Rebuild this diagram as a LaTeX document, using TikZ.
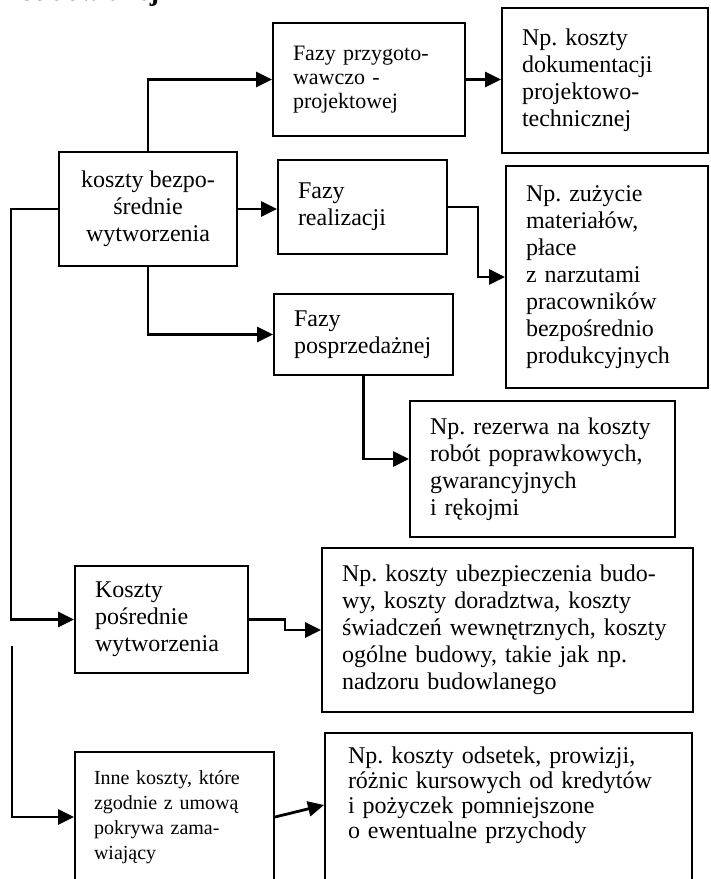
\documentclass[tikz,border=0pt]{standalone}
\usepackage{fontspec}
\setmainfont{Liberation Serif}
\usetikzlibrary{arrows.meta, positioning}
\frenchspacing

\begin{document}
\begin{tikzpicture}[
    x=0.5pt, y=-0.5pt,
    every node/.style={font=\fontsize{12}{13.5}\selectfont},
    box/.style={rectangle, draw, line width=1pt, align=left, inner xsep=10pt},
    small/.style={font=\fontsize{11}{12}\selectfont},
    arrow/.style={-{Triangle[length=8pt, width=7.5pt]}, line width=1.4pt}
]
\useasboundingbox (0,0) rectangle (711,879);

% Heading (cut off at the top)
\node[font=\bfseries\fontsize{14}{16}\selectfont, anchor=base west] (title) at (12,0) {budowlanej};

% Direct costs
\node[box, align=center, minimum width=89pt, minimum height=57pt] (direct) at (148,209) {koszty bezpo-\\średnie\\wytworzenia};

% Phases
\node[box, small, text width=76pt, minimum width=96pt, minimum height=56.5pt] (prep) at (369,79.5) {Fazy przygoto-\\wawczo -\\projektowej};
\node[box, text width=64.5pt, minimum width=84.5pt, minimum height=47pt] (real) at (362.5,207) {Fazy\\realizacji};
\node[box, text width=69.5pt, minimum width=89.5pt, minimum height=40.5pt] (post) at (363.5,334.5) {Fazy\\posprzedażnej};

% Examples
\node[box, text width=83pt, minimum width=103pt, minimum height=72.5pt] (prepex) at (605,80.5) {Np. koszty\\dokumentacji\\projektowo-\\technicznej};
\node[box, text width=81pt, minimum width=101pt, minimum height=111pt] (realex) at (607,277) {Np. zużycie\\materiałów,\\płace\\z narzutami\\pracowników\\bezpośrednio\\produkcyjnych};
\node[box, text width=112.5pt, minimum width=132.5pt, minimum height=68pt] (postex) at (542.5,469) {Np. rezerwa na koszty\\robót poprawkowych,\\gwarancyjnych\\i rękojmi};

% Indirect costs
\node[box, text width=66.5pt, minimum width=86.5pt, minimum height=53.5pt] (indirect) at (161.5,619.5) {Koszty\\pośrednie\\wytworzenia};
\node[box, text width=165.5pt, minimum width=185.5pt, minimum height=82pt] (indirectex) at (507.5,630) {Np. koszty ubezpieczenia budo-\\wy, koszty doradztwa, koszty\\świadczeń wewnętrznych, koszty\\ogólne budowy, takie jak np.\\nadzoru budowlanego};

% Other costs
\node[box, font=\fontsize{10}{12.5}\selectfont, inner xsep=9.5pt, text width=80.5pt, minimum width=99.5pt, minimum height=65pt] (other) at (174.5,817) {Inne koszty, które\\zgodnie z umową\\pokrywa zama-\\wiający};
\node[box, font=\fontsize{12}{12.5}\selectfont, anchor=north, inner xsep=11.5pt, inner ysep=7pt, text width=160.5pt, text depth=75pt, minimum width=183.5pt] (otherex) at (508.5,732) {Np. koszty odsetek, prowizji,\\różnic kursowych od kredytów\\i pożyczek pomniejszone\\o ewentualne przychody};

% Arrows
\draw[arrow] (direct.north) |- (prep.west);
\draw[arrow] (prep.east) -- (prep.east -| prepex.west);
\draw[arrow] (direct.east) -- (direct.east -| real.west);
\draw[arrow] (real.east) -- ++(30,0) |- (realex.west);
\draw[arrow] (direct.south) |- (post.west);
\draw[arrow] (post.south) |- ([yshift=5pt]postex.west);
\draw[arrow] (direct.west) -- ++(-47,0) |- (indirect.west);
\draw[arrow] (indirect.east) -- ++(36,0) |- (indirectex.west);
\coordinate (restart) at (12,646);
\draw[arrow] (restart) |- (other.west);
\draw[arrow] (other.east) -- ([yshift=-36.5pt]otherex.north west);

\end{tikzpicture}
\end{document}
